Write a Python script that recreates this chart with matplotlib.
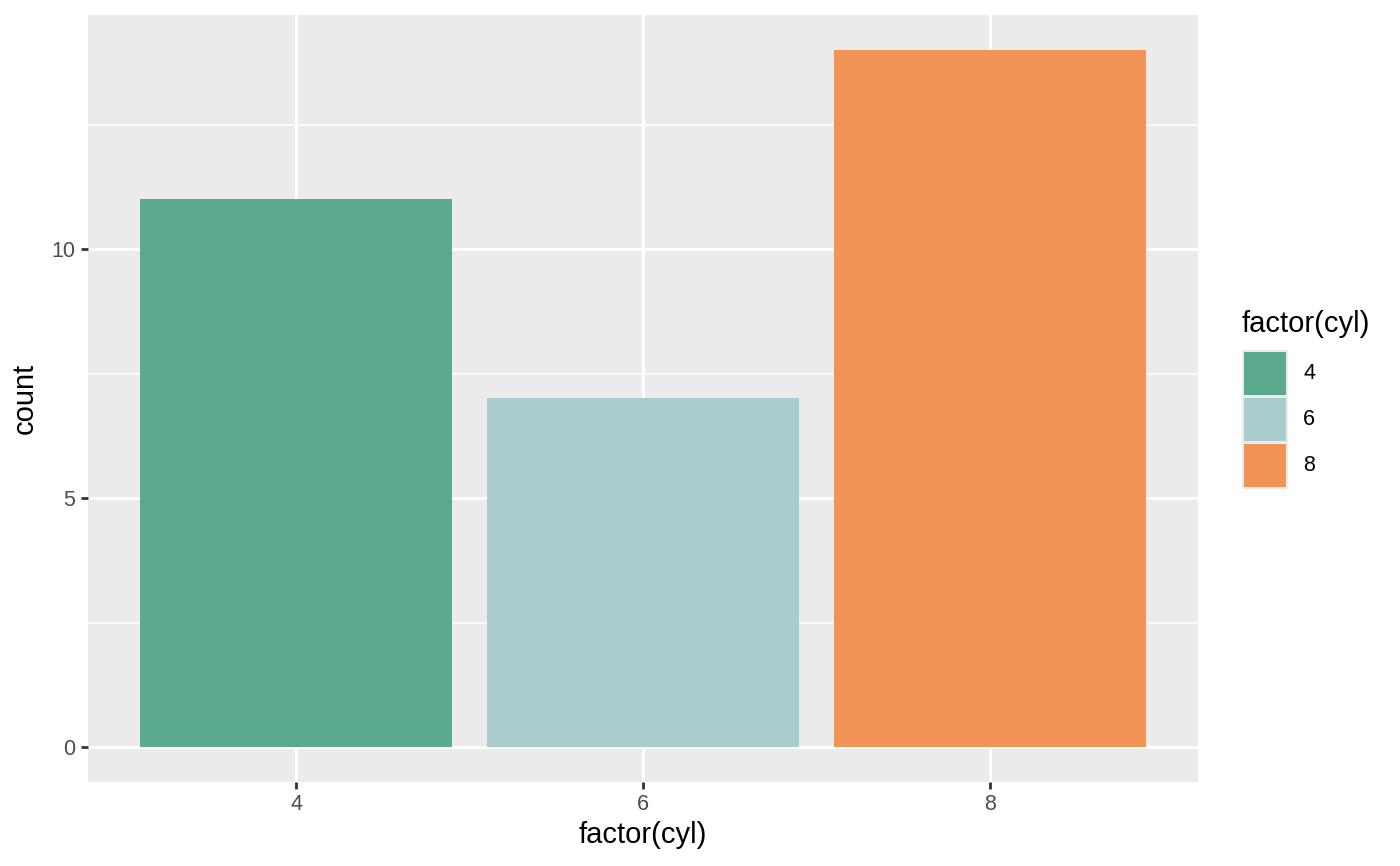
import matplotlib
matplotlib.use("Agg")
import matplotlib.pyplot as plt
from matplotlib.patches import Rectangle

categories = ["4", "6", "8"]
counts = [11, 7, 14]
colors = ["#5BAA8E", "#A8CDCC", "#F29455"]
y_ticks = [0, 5, 10]
y_minor = [2.5, 7.5, 12.5]

plt.rcParams['font.family'] = ['Liberation Sans', 'DejaVu Sans']

W, H = 1400, 866
fig = plt.figure(figsize=(W / 100, H / 100), dpi=100)
fig.patch.set_facecolor("white")

left, right, top, bottom = 88, 1198, 15, 782
ax = fig.add_axes([left / W, 1 - bottom / H, (right - left) / W, (bottom - top) / H])
ax.set_facecolor("#EBEBEB")

x = list(range(1, len(categories) + 1))
ax.bar(x, counts, width=0.9, color=colors, zorder=3)

ax.set_xlim(0.4, 3.6)
ax.set_ylim(-0.7, 14.7)
ax.set_xticks(x)
ax.set_xticklabels(categories)
ax.set_yticks(y_ticks)
ax.set_yticks(y_minor, minor=True)

ax.grid(which="major", color="white", linewidth=2.2, zorder=1)
ax.grid(which="minor", axis="y", color="white", linewidth=1.1, zorder=1)
ax.set_axisbelow(True)
for s in ax.spines.values():
    s.set_visible(False)

ax.tick_params(axis="both", which="major", length=5, width=2.0, color="#333333",
               labelcolor="#4D4D4D", labelsize=15.5, pad=4)
ax.tick_params(axis="both", which="minor", length=0)

ax.set_xlabel("factor(cyl)", fontsize=21, color="black", labelpad=4)
ax.set_ylabel("count", fontsize=21, color="black", labelpad=9)

# Legend (drawn manually, ggplot style)
fig.text(1242 / W, 1 - 324 / H, "factor(cyl)", fontsize=21, ha="left", va="center")
key_x, key_y0, key_h, key_w = 1242, 350, 46.3, 46
for i, (lab, c) in enumerate(zip(categories, colors)):
    y0 = key_y0 + i * key_h
    fig.add_artist(Rectangle((key_x / W, 1 - (y0 + key_h) / H), key_w / W, key_h / H,
                             transform=fig.transFigure, facecolor="#EBEBEB", edgecolor="none"))
    fig.add_artist(Rectangle(((key_x + 2) / W, 1 - (y0 + key_h - 1.5) / H), (key_w - 4) / W,
                             (key_h - 3) / H, transform=fig.transFigure, facecolor=c,
                             edgecolor="none"))
    fig.text(1303 / W, 1 - (y0 + key_h / 2) / H, lab, fontsize=15.5, ha="left",
             va="center", color="black")

fig.savefig("out.png", dpi=100)
